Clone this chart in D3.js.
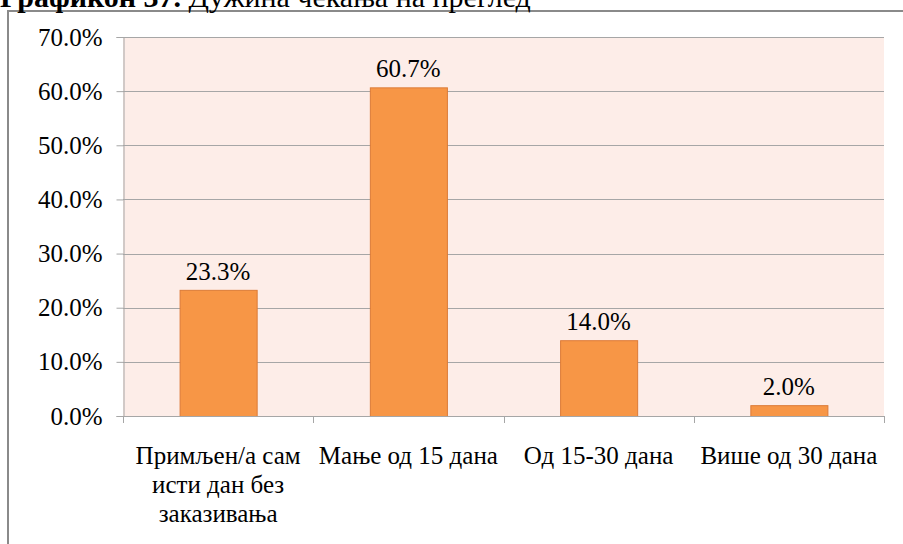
<!DOCTYPE html>
<html>
<head>
<meta charset="utf-8">
<script src="https://cdn.jsdelivr.net/npm/d3@7"></script>
<style>
  html, body { margin: 0; padding: 0; background: #ffffff; overflow: hidden; }
  svg { display: block; }
  svg text { font-family: "Liberation Serif", "Times New Roman", serif; }
</style>
</head>
<body>
<script>
const categories = [["Примљен/а сам", "исти дан без", "заказивања"], ["Мање од 15 дана"], ["Од 15-30 дана"], ["Више од 30 дана"]];
const categoryKeys = ["Примљен/а сам исти дан без заказивања", "Мање од 15 дана", "Од 15-30 дана", "Више од 30 дана"];
const values = [23.3, 60.7, 14.0, 2.0];
const yTicks = [0, 10, 20, 30, 40, 50, 60, 70];
const titleBold = "Графикон 37.";
const titleRest = " Дужина чекања на преглед";

const W = 903, H = 544;
const FONT = "\"Liberation Serif\", \"Times New Roman\", serif";
const FS = 25;
const svg = d3.select("body").append("svg").attr("width", W).attr("height", H);

// outer chart border
svg.append("rect").attr("x", 8).attr("y", 11).attr("width", W + 20).attr("height", H + 20)
  .attr("fill", "#ffffff").attr("stroke", "#8a8a8a").attr("stroke-width", 2);

// title (partly cut off at top, as in the reference)
const t = svg.append("text").attr("x", 0).attr("y", 7).style("font-family", FONT).attr("font-size", 30).attr("fill", "#000");
t.append("tspan").attr("font-weight", "bold").text(titleBold);
t.append("tspan").text(titleRest);

const plot = { left: 123, right: 884, top: 37, bottom: 416 };
const x = d3.scaleBand().domain(categoryKeys).range([plot.left, plot.right]).paddingInner(0.595).paddingOuter(0.2975);
const y = d3.scaleLinear().domain([0, 70]).range([plot.bottom, plot.top]);

// plot background
svg.append("rect").attr("x", plot.left).attr("y", plot.top)
  .attr("width", plot.right - plot.left).attr("height", plot.bottom - plot.top).attr("fill", "#fdede8");

// gridlines
svg.append("g").selectAll("line").data(yTicks.filter(d => d > 0)).join("line")
  .attr("x1", plot.left).attr("x2", plot.right)
  .attr("y1", d => Math.round(y(d)) + 0.5).attr("y2", d => Math.round(y(d)) + 0.5)
  .attr("stroke", "#a6a6a6").attr("stroke-width", 1);

// y axis
const yAxis = svg.append("g").attr("transform", `translate(${plot.left + 0.5},0)`)
  .call(d3.axisLeft(y).tickValues(yTicks).tickSize(7).tickFormat(d => d.toFixed(1) + "%").tickPadding(14));
yAxis.attr("font-family", null);
yAxis.select(".domain").attr("stroke", "#a6a6a6");
yAxis.selectAll(".tick line").attr("stroke", "#a6a6a6");
yAxis.selectAll(".tick text").style("font-family", FONT).attr("font-size", FS).attr("fill", "#000");

// bars
svg.append("g").selectAll("rect").data(values).join("rect")
  .attr("x", (d, i) => x(categoryKeys[i]) + 0.5)
  .attr("y", d => y(d) + 0.5)
  .attr("width", x.bandwidth())
  .attr("height", d => plot.bottom - y(d))
  .attr("fill", "#f79646").attr("stroke", "#dc7b37").attr("stroke-width", 1);

// x axis line and boundary ticks
const step = x.step();
const xBounds = d3.range(categoryKeys.length + 1).map(i => plot.left + i * step);
svg.append("line").attr("x1", plot.left).attr("x2", plot.right)
  .attr("y1", plot.bottom + 0.5).attr("y2", plot.bottom + 0.5).attr("stroke", "#a6a6a6");
svg.append("g").selectAll("line").data(xBounds).join("line")
  .attr("x1", d => Math.round(d) + 0.5).attr("x2", d => Math.round(d) + 0.5)
  .attr("y1", plot.bottom).attr("y2", plot.bottom + 7).attr("stroke", "#a6a6a6");

// value labels
svg.append("g").selectAll("text").data(values).join("text")
  .attr("x", (d, i) => x(categoryKeys[i]) + x.bandwidth() / 2)
  .attr("y", d => y(d) - 10)
  .attr("text-anchor", "middle").style("font-family", FONT).attr("font-size", FS).attr("fill", "#000")
  .text(d => d.toFixed(1) + "%");

// category labels
const cat = svg.append("g").selectAll("text").data(categories).join("text")
  .attr("text-anchor", "middle").style("font-family", FONT).attr("font-size", FS).attr("fill", "#000")
  .attr("x", (d, i) => x(categoryKeys[i]) + x.bandwidth() / 2)
  .attr("y", 464);
cat.selectAll("tspan").data(d => d).join("tspan")
  .attr("x", function() { return d3.select(this.parentNode).attr("x"); })
  .attr("dy", (d, i) => i === 0 ? 0 : 29)
  .text(d => d);
</script>
</body>
</html>
